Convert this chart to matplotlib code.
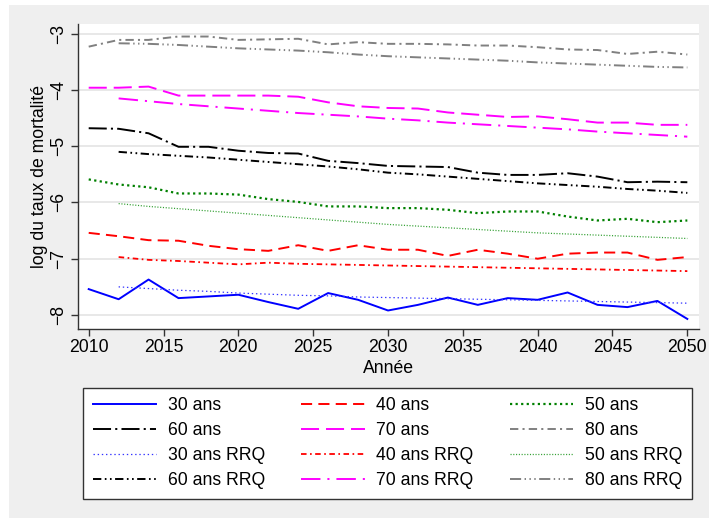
import matplotlib.pyplot as plt
from matplotlib.patches import Rectangle

plt.rcParams["font.family"] = ["Liberation Sans", "DejaVu Sans"]
plt.rcParams["lines.scale_dashes"] = False

# Années (séries observées / projetées)
annees = [2010, 2012, 2014, 2016, 2018, 2020, 2022, 2024, 2026, 2028, 2030,
          2032, 2034, 2036, 2038, 2040, 2042, 2044, 2046, 2048, 2050]
annees_rrq = annees[1:]

m30 = [-7.54, -7.72, -7.37, -7.70, -7.67, -7.64, -7.77, -7.89, -7.61, -7.73, -7.92,
       -7.82, -7.69, -7.82, -7.70, -7.73, -7.60, -7.82, -7.86, -7.75, -8.07]
m40 = [-6.54, -6.60, -6.67, -6.68, -6.77, -6.83, -6.86, -6.76, -6.86, -6.76, -6.84,
       -6.84, -6.95, -6.84, -6.91, -7.00, -6.91, -6.89, -6.89, -7.02, -6.97]
m50 = [-5.59, -5.68, -5.73, -5.84, -5.84, -5.86, -5.94, -5.99, -6.07, -6.07, -6.10,
       -6.10, -6.13, -6.19, -6.16, -6.16, -6.25, -6.32, -6.29, -6.35, -6.32]
m60 = [-4.68, -4.69, -4.77, -5.01, -5.01, -5.08, -5.12, -5.13, -5.26, -5.30, -5.35,
       -5.36, -5.37, -5.47, -5.51, -5.51, -5.48, -5.54, -5.64, -5.63, -5.64]
m70 = [-3.96, -3.96, -3.94, -4.10, -4.10, -4.10, -4.10, -4.12, -4.22, -4.29, -4.32,
       -4.33, -4.40, -4.44, -4.48, -4.47, -4.52, -4.58, -4.58, -4.62, -4.62]
m80 = [-3.23, -3.11, -3.11, -3.05, -3.05, -3.11, -3.10, -3.09, -3.19, -3.15, -3.18,
       -3.18, -3.19, -3.21, -3.21, -3.24, -3.28, -3.29, -3.36, -3.32, -3.37]

r30 = [-7.50, -7.53, -7.56, -7.58, -7.61, -7.63, -7.65, -7.66, -7.68, -7.69,
       -7.70, -7.71, -7.72, -7.73, -7.74, -7.75, -7.76, -7.77, -7.78, -7.79]
r40 = [-6.97, -7.02, -7.04, -7.07, -7.10, -7.07, -7.09, -7.10, -7.11, -7.12,
       -7.13, -7.14, -7.15, -7.16, -7.17, -7.18, -7.19, -7.20, -7.21, -7.22]
r50 = [-6.02, -6.07, -6.11, -6.15, -6.19, -6.23, -6.27, -6.31, -6.35, -6.39,
       -6.42, -6.45, -6.48, -6.51, -6.54, -6.56, -6.58, -6.60, -6.62, -6.64]
r60 = [-5.10, -5.14, -5.17, -5.20, -5.24, -5.28, -5.32, -5.36, -5.41, -5.47,
       -5.50, -5.54, -5.58, -5.62, -5.66, -5.69, -5.72, -5.76, -5.79, -5.83]
r70 = [-4.15, -4.20, -4.25, -4.29, -4.33, -4.37, -4.41, -4.44, -4.47, -4.51,
       -4.54, -4.58, -4.61, -4.64, -4.67, -4.70, -4.74, -4.77, -4.80, -4.83]
r80 = [-3.17, -3.18, -3.20, -3.23, -3.26, -3.28, -3.30, -3.33, -3.37, -3.40,
       -3.42, -3.44, -3.46, -3.48, -3.51, -3.53, -3.55, -3.57, -3.59, -3.60]

labels_ages = ["30 ans", "40 ans", "50 ans", "60 ans", "70 ans", "80 ans"]
y_ticks = [-3, -4, -5, -6, -7, -8]
x_ticks = [2010, 2015, 2020, 2025, 2030, 2035, 2040, 2045, 2050]

# Style des courbes (couleur, motif de tirets, épaisseur)
styles_obs = [
    ("#0000ff", "-", 1.4),
    ("#ff0000", (0, (8, 4.5)), 1.4),
    ("#008000", (0, (1.6, 2.4)), 1.6),
    ("#000000", (0, (13, 3, 1.5, 3)), 1.4),
    ("#ff00ff", (0, (13, 5)), 1.4),
    ("#808080", (0, (6, 3, 1.5, 3)), 1.4),
]
styles_rrq = [
    ("#3333ff", (0, (1, 2)), 0.9),
    ("#ff0000", (0, (4, 2.5, 1.2, 2.5)), 1.3),
    ("#33a033", (0, (0.8, 1.2)), 0.9),
    ("#000000", (0, (6, 2.5, 1.2, 2.5, 1.2, 2.5)), 1.4),
    ("#ff00ff", (0, (14, 5, 1.5, 5)), 1.4),
    ("#808080", (0, (8, 2.5, 1, 2.5, 1, 2.5, 1, 2.5)), 1.4),
]

W, H = 709, 518
fig = plt.figure(figsize=(W / 100, H / 100), dpi=100, facecolor="white")
fig.patches.append(Rectangle((9 / W, 0), 1 - 9 / W, 1 - 5 / H,
                             transform=fig.transFigure, facecolor="#efefef",
                             edgecolor="none", zorder=-10))

ax = fig.add_axes([78 / W, (H - 329) / H, (699 - 78) / W, (329 - 23.7) / H])
ax.set_facecolor("white")

obs = [m30, m40, m50, m60, m70, m80]
rrq = [r30, r40, r50, r60, r70, r80]
h_obs, h_rrq = [], []
for serie, (c, ls, lw), lab in zip(obs, styles_obs, labels_ages):
    ln, = ax.plot(annees, serie, color=c, linestyle=ls, linewidth=lw, label=lab)
    h_obs.append(ln)
for serie, (c, ls, lw), lab in zip(rrq, styles_rrq, labels_ages):
    ln, = ax.plot(annees_rrq, serie, color=c, linestyle=ls, linewidth=lw,
                  label=lab + " RRQ")
    h_rrq.append(ln)

ax.set_xlim(2009.285, 2050.78)
ax.set_ylim(-8.249, -2.822)
ax.set_xticks(x_ticks)
ax.set_yticks(y_ticks)
ax.set_yticklabels([str(t).replace("-", "\u2212") for t in y_ticks],
                   rotation=90, va="center")
ax.grid(axis="y", color="#e4e4e4", linewidth=1.2)
ax.set_axisbelow(True)
for s in ["top", "right"]:
    ax.spines[s].set_visible(False)
for s in ["left", "bottom"]:
    ax.spines[s].set_color("#333333")
    ax.spines[s].set_linewidth(1.0)
ax.tick_params(axis="both", labelsize=12.7, length=5, width=1.0,
               color="#333333", pad=2)
ax.tick_params(axis="y", pad=3)
ax.set_xlabel("Année", fontsize=12.7, labelpad=3)
ax.set_ylabel("log du taux de mortalité", fontsize=12.7, labelpad=1)

# Légende : lignes lues de gauche à droite (3 colonnes)
order_rows = [h_obs[0:3], h_obs[3:6], h_rrq[0:3], h_rrq[3:6]]
handles = [order_rows[r][c] for c in range(3) for r in range(4)]
leg = fig.legend(handles=handles, labels=[h.get_label() for h in handles],
                 ncol=3, loc="upper left", mode="expand",
                 bbox_to_anchor=(83 / W, 0, (692 - 83) / W, 1 - 387.7 / H),
                 fontsize=12.7, handlelength=3.6, handletextpad=0.65,
                 labelspacing=0.45, borderpad=0.55, borderaxespad=0,
                 fancybox=False, framealpha=1, facecolor="white",
                 edgecolor="#333333")
leg.get_frame().set_linewidth(1.0)

fig.savefig("out.png", dpi=100, facecolor=fig.get_facecolor())
